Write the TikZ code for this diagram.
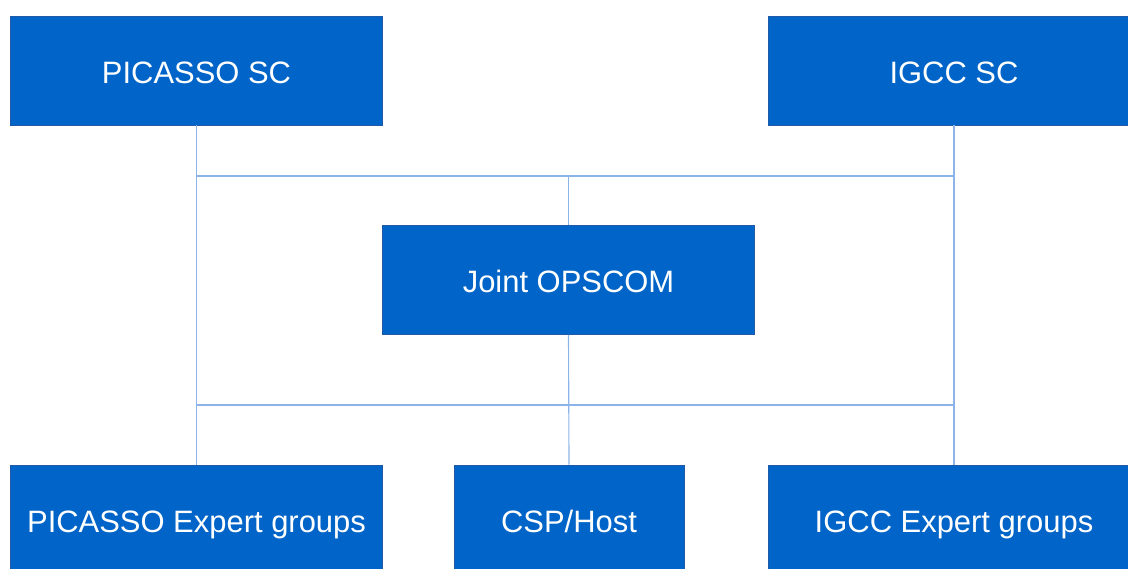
\documentclass[tikz,border=0pt]{standalone}
\usepackage{fontspec}
\setmainfont{Liberation Sans}
\usepackage{tikz}
\usetikzlibrary{positioning, calc}
\usepackage{xcolor}
\definecolor{boxblue}{RGB}{0, 100, 200}
\definecolor{boxedge}{RGB}{30, 90, 165}
\definecolor{linkblue}{RGB}{140, 180, 232}

\begin{document}
\begin{tikzpicture}[x=0.025cm, y=-0.025cm,
    orgbox/.style={draw=boxedge, line width=0.5pt, fill=boxblue, text=white,
      font=\fontsize{22}{26}\selectfont, inner sep=0pt,
      text height=18pt, text depth=0pt,
      minimum width=9.3cm, minimum height=2.725cm},
    link/.style={draw=linkblue, line width=0.8pt}]
        \useasboundingbox (0,0) rectangle (1128,568);
        % steering committees
        \node[orgbox] (picsc) at (196.5,70.5) {PICASSO SC};
        \node[orgbox] (igccsc) at (954,70.5) {IGCC SC};
        % joint body
        \node[orgbox] (opscom) at (568.5,280) {Joint OPSCOM};
        % lower row (cut by the page edge)
        \node[orgbox] (picexp) at (196.5,519.5) {PICASSO Expert groups};
        \node[orgbox, minimum width=5.75cm] (csp) at (569,519.5) {CSP/Host};
        \node[orgbox] (igccexp) at (954,519.5) {IGCC Expert groups};
        % bus lines
        \coordinate (tl) at (196.5,176);
        \coordinate (tr) at (954,176);
        \coordinate (bl) at (196.5,405);
        \coordinate (br) at (954,405);
        \draw[link] (tl) -- (tr);
        \draw[link] (bl) -- (br);
        % verticals
        \draw[link] (picsc.south) -- (picexp.north);
        \draw[link] (igccsc.south) -- (igccexp.north);
        \draw[link] (opscom.north) -- (opscom.north |- tl);
        \draw[link] (opscom.south) -- (csp.north);
      \end{tikzpicture}
\end{document}
